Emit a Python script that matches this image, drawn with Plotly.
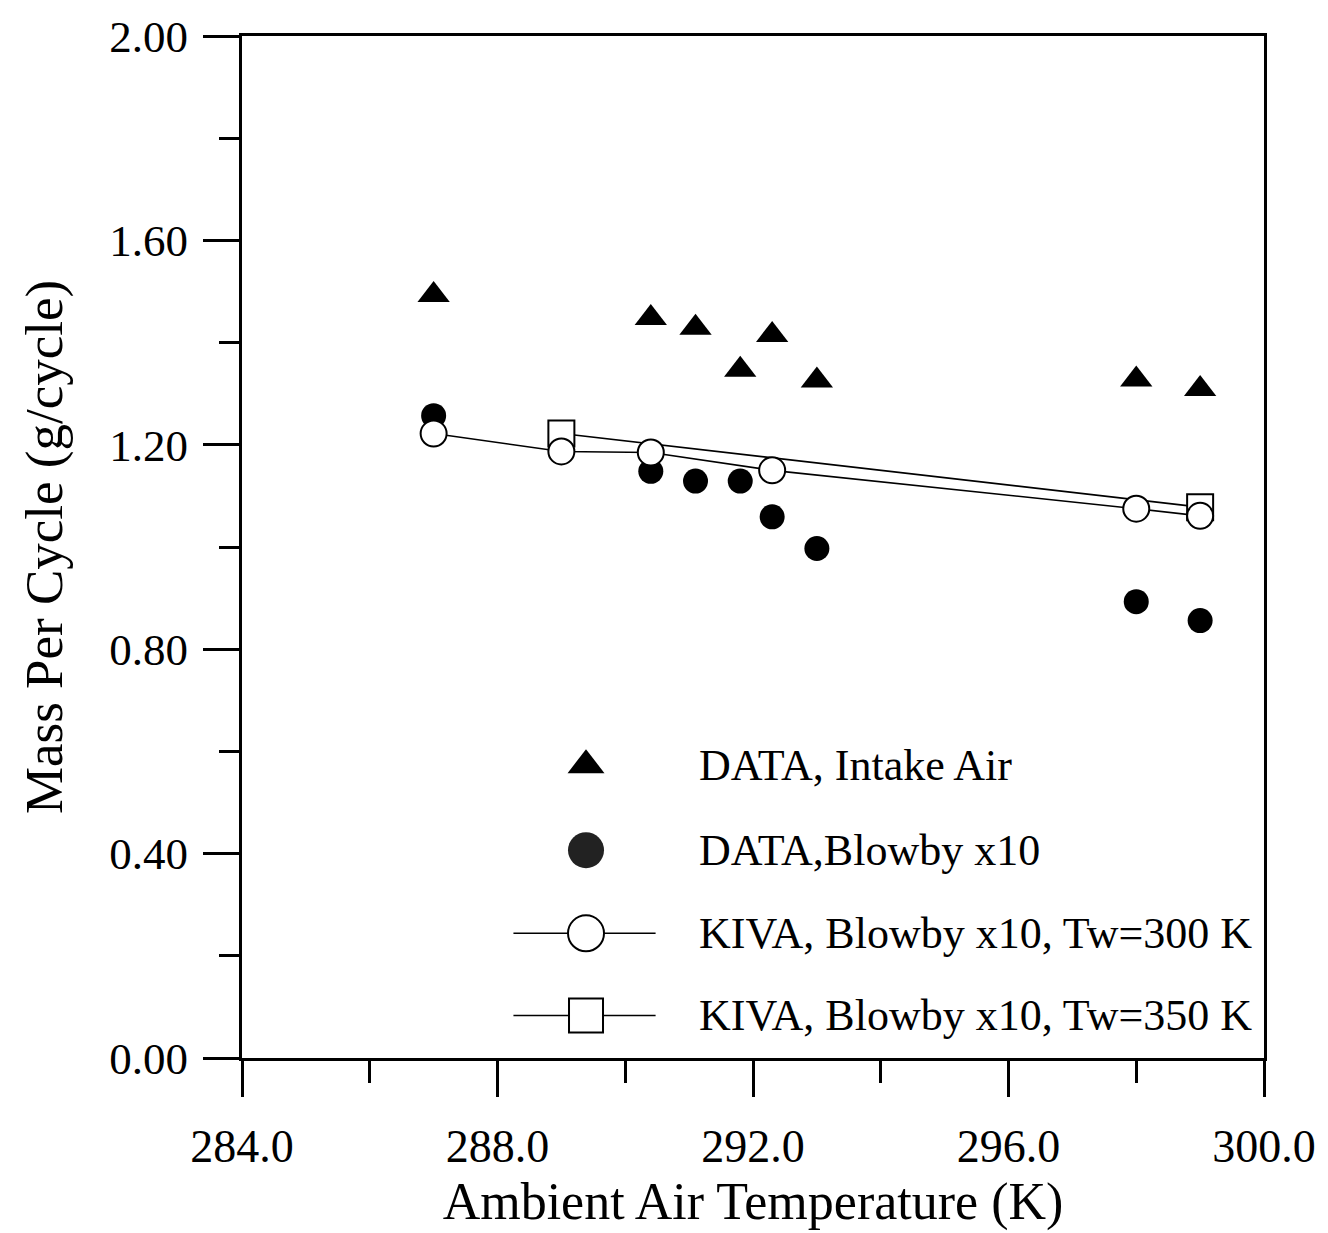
import plotly.graph_objects as go

# ---- data ----
temp_intake = [287.0, 290.4, 291.1, 291.8, 292.3, 293.0, 298.0, 299.0]
mass_intake = [1.493, 1.448, 1.429, 1.347, 1.415, 1.326, 1.328, 1.309]

temp_blowby = [287.0, 290.4, 291.1, 291.8, 292.3, 293.0, 298.0, 299.0]
mass_blowby = [1.257, 1.148, 1.129, 1.129, 1.059, 0.997, 0.893, 0.856]

temp_kiva300 = [287.0, 289.0, 290.4, 292.3, 298.0, 299.0]
mass_kiva300 = [1.222, 1.187, 1.185, 1.150, 1.075, 1.061]

temp_kiva350 = [289.0, 299.0]
mass_kiva350 = [1.222, 1.078]

series_names = [
    "DATA, Intake Air",
    "DATA,Blowby x10",
    "KIVA, Blowby x10, Tw=300 K",
    "KIVA, Blowby x10, Tw=350 K",
]

x_ticks = [284, 288, 292, 296, 300]
x_ticklabels = ["284.0", "288.0", "292.0", "296.0", "300.0"]
y_ticks = [0.0, 0.4, 0.8, 1.2, 1.6, 2.0]
y_ticklabels = ["0.00", "0.40", "0.80", "1.20", "1.60", "2.00"]

FONT = "Liberation Serif"
BLACK = "black"

fig = go.Figure()

fig.add_trace(go.Scatter(
    x=temp_intake, y=mass_intake, mode="markers", name=series_names[0],
    marker=dict(symbol="triangle-up", size=28, color=BLACK, line=dict(width=0)),
    showlegend=False))
fig.add_trace(go.Scatter(
    x=temp_blowby, y=mass_blowby, mode="markers", name=series_names[1],
    marker=dict(symbol="circle", size=25, color=BLACK, line=dict(width=0)),
    showlegend=False))
fig.add_trace(go.Scatter(
    x=temp_kiva350, y=mass_kiva350, mode="lines+markers", name=series_names[3],
    line=dict(color=BLACK, width=1.6),
    marker=dict(symbol="square", size=26, color="white", line=dict(color=BLACK, width=2)),
    showlegend=False))
fig.add_trace(go.Scatter(
    x=temp_kiva300, y=mass_kiva300, mode="lines+markers", name=series_names[2],
    line=dict(color=BLACK, width=1.6),
    marker=dict(symbol="circle", size=26, color="white", line=dict(color=BLACK, width=2)),
    showlegend=False))

# ---- hand-built legend on an invisible overlay axis (paper-like 0..1) ----
leg_rows = [0.2865, 0.2033, 0.122, 0.0416]
leg_sym_x = 0.3366
leg_line_x = [0.2656, 0.4047]
leg_text_x = 0.4455

legend_styles = [
    dict(symbol="triangle-up", size=32, color=BLACK, line=dict(width=0)),
    dict(symbol="circle", size=36, color="#222222", line=dict(width=0)),
    dict(symbol="circle", size=36, color="white", line=dict(color=BLACK, width=2)),
    dict(symbol="square", size=34, color="white", line=dict(color=BLACK, width=2)),
]
for i, (yy, st) in enumerate(zip(leg_rows, legend_styles)):
    if i >= 2:
        fig.add_trace(go.Scatter(
            x=leg_line_x, y=[yy, yy], mode="lines", xaxis="x2", yaxis="y2",
            line=dict(color=BLACK, width=1.6), showlegend=False, hoverinfo="skip"))
    fig.add_trace(go.Scatter(
        x=[leg_sym_x], y=[yy], mode="markers", xaxis="x2", yaxis="y2",
        marker=st, showlegend=False, hoverinfo="skip"))
    fig.add_annotation(
        x=leg_text_x, y=yy, xref="x2", yref="y2", text=series_names[i],
        showarrow=False, xanchor="left", yanchor="middle",
        font=dict(family=FONT, size=44, color=BLACK))

fig.update_layout(
    width=1328, height=1233,
    margin=dict(l=242, r=58, t=30, b=170),
    paper_bgcolor="white", plot_bgcolor="white",
    font=dict(family=FONT, color=BLACK),
    xaxis=dict(
        range=[284, 300], tickvals=x_ticks, ticktext=x_ticklabels,
        showgrid=False, zeroline=False,
        showline=True, linecolor=BLACK, linewidth=3, mirror=True,
        ticks="outside", ticklen=36, tickwidth=2.5, tickcolor=BLACK,
        ticklabelstandoff=10,
        tickfont=dict(family=FONT, size=46, color=BLACK),
        minor=dict(dtick=2, ticks="outside", ticklen=22, tickwidth=2.5, tickcolor=BLACK, showgrid=False),
        title=dict(text="Ambient Air Temperature (K)", font=dict(family=FONT, size=52, color=BLACK), standoff=12),
    ),
    yaxis=dict(
        range=[0, 2.0], tickvals=y_ticks, ticktext=y_ticklabels,
        showgrid=False, zeroline=False,
        showline=True, linecolor=BLACK, linewidth=3, mirror=True,
        ticks="outside", ticklen=36, tickwidth=2.5, tickcolor=BLACK,
        ticklabelstandoff=6,
        tickfont=dict(family=FONT, size=45, color=BLACK),
        minor=dict(dtick=0.2, ticks="outside", ticklen=20, tickwidth=2.5, tickcolor=BLACK, showgrid=False),
        title=dict(text="Mass Per Cycle (g/cycle)", font=dict(family=FONT, size=53, color=BLACK), standoff=30),
    ),
    xaxis2=dict(overlaying="x", range=[0, 1], visible=False),
    yaxis2=dict(overlaying="y", range=[0, 1], visible=False),
)

fig.write_html("out.html")
